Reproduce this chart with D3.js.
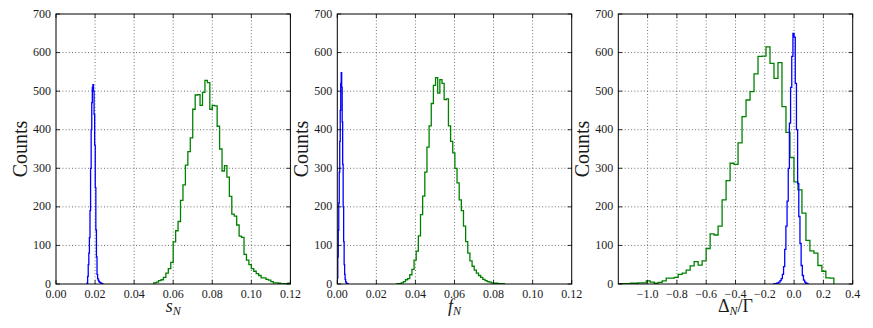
<!DOCTYPE html>
<html><head><meta charset="utf-8">
<script src="https://cdn.jsdelivr.net/npm/d3@7"></script>
<style>
body{margin:0;background:#fff;}
svg text{font-family:"Liberation Serif","Times New Roman",serif;fill:#1a1a1a;}
</style>
</head><body>
<svg id="chart" width="873" height="328"></svg>
<script>
// ---------------- data ----------------
const countTicks = [0, 100, 200, 300, 400, 500, 600, 700];
const sTicks = [0.00, 0.02, 0.04, 0.06, 0.08, 0.10, 0.12];
const fTicks = [0.00, 0.02, 0.04, 0.06, 0.08, 0.10, 0.12];
const dTicks = [-1.0, -0.8, -0.6, -0.4, -0.2, 0.0, 0.2, 0.4];

// panel 1: s_N histograms (bin start, bin width, counts)
const sBlueStart = 0.0159, sBlueWidth = 0.0003;
const sBlueCounts = [2,20,50,80,120,190,300,400,470,510,517,500,440,360,250,140,70,25,14,10,7,5,4,3,2,1,1];
const sGreenStart = 0.05, sGreenWidth = 0.00125;
const sGreenCounts = [3,5,9,11,17,28,40,56,109,138,162,217,257,308,343,379,453,490,491,463,497,528,522,453,463,462,409,350,293,307,277,227,181,176,153,124,121,77,62,50,40,33,27,22,16,16,12,10,6,3,3,2,1,1,1,2];

// panel 2: f_N histograms
const fBlueStart = 0.0, fBlueWidth = 0.00025;
const fBlueCounts = [15,70,140,210,290,370,450,520,548,510,420,310,200,110,50,25,12,6,3,2,1,1];
const fGreenStart = 0.0305, fGreenWidth = 0.0011;
const fGreenCounts = [1,1,3,6,11,14,24,38,62,85,125,180,228,290,355,410,468,515,535,495,530,520,478,480,410,370,340,300,262,218,190,150,110,80,60,46,36,28,22,17,12,9,6,5,3,2,2,1,1,1];

// panel 3: Delta_N / Gamma histograms
const dBlueStart = -0.144, dBlueWidth = 0.008;
const dBlueCounts = [0,1,1,2,3,5,9,14,25,45,90,150,215,300,417,510,590,650,640,520,400,260,175,105,48,22,10,5,2,1];
const dGreenStart = -1.2, dGreenWidth = 0.02725;
const dGreenCounts = [1,1,1,2,2,3,3,8,5,2,4,8,15,15,17,25,28,36,47,58,49,60,92,130,127,150,218,268,313,310,366,434,477,499,545,590,591,615,572,533,574,460,393,328,265,244,184,113,86,80,48,33,16,15];

const xDomains = [[0, 0.12], [0, 0.12], [-1.2, 0.4]];
const countDomain = [0, 700];

// ---------------- drawing ----------------
const svg = d3.select("#chart");
svg.append("rect").attr("width", 873).attr("height", 328).attr("fill", "#fff");

const topY = 14, ph = 270, pw = 234.4;
const lefts = [56, 337.3, 618.3];

const panels = [
  {ticks: sTicks, fmt: d3.format(".2f"), blue: [sBlueStart, sBlueWidth, sBlueCounts], green: [sGreenStart, sGreenWidth, sGreenCounts], label: "s"},
  {ticks: fTicks, fmt: d3.format(".2f"), blue: [fBlueStart, fBlueWidth, fBlueCounts], green: [fGreenStart, fGreenWidth, fGreenCounts], label: "f"},
  {ticks: dTicks, fmt: d3.format(".1f"), blue: [dBlueStart, dBlueWidth, dBlueCounts], green: [dGreenStart, dGreenWidth, dGreenCounts], label: "delta"}
];

function stepPoints(start, width, counts) {
  const pts = [[start, 0]];
  counts.forEach((c, i) => {
    pts.push([start + i * width, c]);
    pts.push([start + (i + 1) * width, c]);
  });
  pts.push([start + counts.length * width, 0]);
  return pts;
}

panels.forEach((p, i) => {
  const left = lefts[i];
  const x = d3.scaleLinear().domain(xDomains[i]).range([left, left + pw]);
  const y = d3.scaleLinear().domain(countDomain).range([topY + ph, topY]);
  const g = svg.append("g");

  const clipId = "clip" + i;
  g.append("clipPath").attr("id", clipId)
    .append("rect").attr("x", left).attr("y", topY - 2).attr("width", pw).attr("height", ph + 2);

  // grid
  const grid = g.append("g").attr("stroke", "#333").attr("stroke-width", 0.7)
    .attr("stroke-dasharray", "1,2.2");
  p.ticks.forEach(t => {
    const xx = x(t);
    if (xx > left + 0.5 && xx < left + pw - 0.5)
      grid.append("line").attr("x1", xx).attr("x2", xx).attr("y1", topY).attr("y2", topY + ph);
  });
  countTicks.forEach(t => {
    const yy = y(t);
    if (yy > topY + 0.5 && yy < topY + ph - 0.5)
      grid.append("line").attr("x1", left).attr("x2", left + pw).attr("y1", yy).attr("y2", yy);
  });

  const line = d3.line().x(d => x(d[0])).y(d => y(d[1]));
  const data = g.append("g").attr("clip-path", `url(#${clipId})`).attr("fill", "none")
    .attr("stroke-width", 1.3).attr("stroke-linejoin", "miter");
  data.append("path").attr("d", line(stepPoints(...p.green))).attr("stroke", "#008000");
  data.append("path").attr("d", line(stepPoints(...p.blue))).attr("stroke", "#0000ff");

  // ticks (inward, all four sides)
  const tk = g.append("g").attr("stroke", "#000").attr("stroke-width", 0.8);
  p.ticks.forEach(t => {
    const xx = x(t);
    tk.append("line").attr("x1", xx).attr("x2", xx).attr("y1", topY + ph).attr("y2", topY + ph - 4);
    tk.append("line").attr("x1", xx).attr("x2", xx).attr("y1", topY).attr("y2", topY + 4);
  });
  countTicks.forEach(t => {
    const yy = y(t);
    tk.append("line").attr("x1", left).attr("x2", left + 4).attr("y1", yy).attr("y2", yy);
    tk.append("line").attr("x1", left + pw).attr("x2", left + pw - 4).attr("y1", yy).attr("y2", yy);
  });

  // frame
  g.append("rect").attr("x", left).attr("y", topY).attr("width", pw).attr("height", ph)
    .attr("fill", "none").attr("stroke", "#000").attr("stroke-width", 1);

  // tick labels
  p.ticks.forEach(t => {
    g.append("text").attr("x", x(t)).attr("y", topY + ph + 14).attr("text-anchor", "middle")
      .attr("font-size", 12).text(p.fmt(t));
  });
  countTicks.forEach(t => {
    g.append("text").attr("x", left - 5).attr("y", y(t)).attr("dy", "0.3em").attr("text-anchor", "end")
      .attr("font-size", 12).text(t);
  });

  // y label
  g.append("text").attr("transform", `translate(${left - 36},${topY + ph / 2}) rotate(-90)`)
    .attr("text-anchor", "middle").attr("dy", "0.35em").attr("font-size", 20).text("Counts");

  // x label
  const xl = g.append("text").attr("x", left + pw / 2).attr("y", 312).attr("text-anchor", "middle").attr("font-size", 18);
  if (p.label === "s") {
    xl.append("tspan").attr("font-style", "italic").text("s");
    xl.append("tspan").attr("font-style", "italic").attr("font-size", 12).attr("dy", 3).text("N");
  } else if (p.label === "f") {
    xl.append("tspan").attr("font-style", "italic").text("f");
    xl.append("tspan").attr("font-style", "italic").attr("font-size", 12).attr("dy", 3).text("N");
  } else {
    xl.append("tspan").text("Δ");
    xl.append("tspan").attr("font-style", "italic").attr("font-size", 12).attr("dy", 3).text("N");
    xl.append("tspan").attr("dy", -3).text("/Γ");
  }
});
</script>
</body></html>
